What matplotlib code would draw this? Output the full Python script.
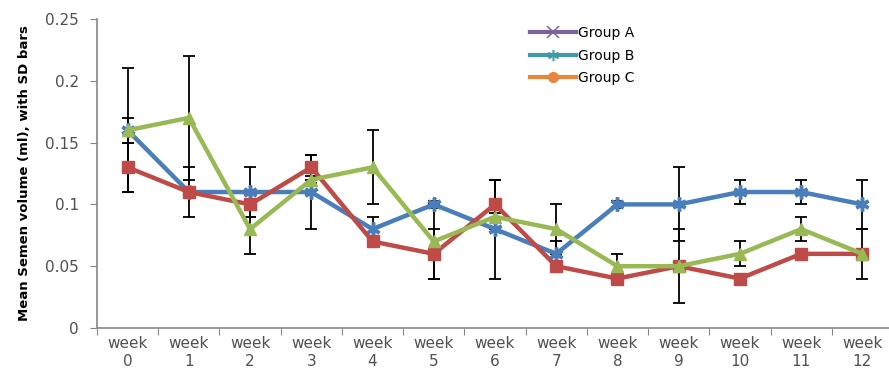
import numpy as np
import matplotlib
matplotlib.use("Agg")
import matplotlib.pyplot as plt
from matplotlib.lines import Line2D

weeks = ["week\n0", "week\n1", "week\n2", "week\n3", "week\n4", "week\n5", "week\n6",
         "week\n7", "week\n8", "week\n9", "week\n10", "week\n11", "week\n12"]

blue_mean = [0.16, 0.11, 0.11, 0.11, 0.08, 0.10, 0.08, 0.06, 0.10, 0.10, 0.11, 0.11, 0.10]
blue_sd   = [0.01, 0.003, 0.02, 0.03, 0.01, 0.003, 0.04, 0.01, 0.003, 0.03, 0.01, 0.01, 0.02]

red_mean = [0.13, 0.11, 0.10, 0.13, 0.07, 0.06, 0.10, 0.05, 0.04, 0.05, 0.04, 0.06, 0.06]
red_sd   = [0.02, 0.02, 0.01, 0.01, 0.003, 0.02, 0.02, 0.003, 0.003, 0.003, 0.003, 0.003, 0.003]

green_mean = [0.16, 0.17, 0.08, 0.12, 0.13, 0.07, 0.09, 0.08, 0.05, 0.05, 0.06, 0.08, 0.06]
green_sd   = [0.05, 0.05, 0.02, 0.003, 0.03, 0.03, 0.003, 0.02, 0.01, 0.03, 0.01, 0.01, 0.02]

legend_labels = ["Group A", "Group B", "Group C"]

W, H = 889, 379
fig = plt.figure(figsize=(W / 100, H / 100), dpi=100)
ax = fig.add_axes([97 / W, 51 / H, 796 / W, 309 / H])

x = np.arange(len(weeks))
series = [
    (blue_mean, blue_sd, "#4A7EBB", dict(marker=(6, 2, 0), markersize=10, markeredgewidth=2.5)),
    (red_mean, red_sd, "#BE4B48", dict(marker="s", markersize=8)),
    (green_mean, green_sd, "#98B954", dict(marker="^", markersize=9)),
]

for mean, sd, color, mk in series:
    ax.errorbar(x, mean, yerr=sd, fmt="none", ecolor="black", elinewidth=1.3,
                capsize=4, capthick=1.3, zorder=2)

for z, (mean, sd, color, mk) in enumerate(series):
    ax.plot(x, mean, color=color, linewidth=3.2, markerfacecolor=color,
            markeredgecolor=color, zorder=3 + z, **mk)

ax.set_xlim(-0.5, len(weeks) - 0.5)
ax.set_ylim(0, 0.25)

ax.set_yticks([0, 0.05, 0.1, 0.15, 0.2, 0.25])
ax.set_yticklabels(["0", "0.05", "0.1", "0.15", "0.2", "0.25"])
ax.set_xticks(np.arange(-0.5, len(weeks), 1))
ax.set_xticklabels([])
ax.set_xticks(x, minor=True)
ax.set_xticklabels(weeks, minor=True)

ax.tick_params(axis="y", which="major", length=5, color="#888888", labelsize=11,
               labelcolor="#505050", pad=8)
ax.tick_params(axis="x", which="major", length=5, color="#888888")
ax.tick_params(axis="x", which="minor", length=0, labelsize=11, labelcolor="#505050", pad=6)

for side in ("top", "right"):
    ax.spines[side].set_visible(False)
for side in ("left", "bottom"):
    ax.spines[side].set_color("#888888")
    ax.spines[side].set_linewidth(1.2)

ax.set_ylabel("Mean Semen volume (ml), with SD bars", fontsize=9.5, fontweight="bold",
              labelpad=10)

handles = [
    Line2D([], [], color="#7E649E", linewidth=3, marker="x", markersize=8, markeredgewidth=1.1),
    Line2D([], [], color="#3F9AA8", linewidth=3, marker=(6, 2, 0), markersize=8, markeredgewidth=1.1),
    Line2D([], [], color="#E8873C", linewidth=3, marker="o", markersize=7),
]
ax.legend(handles, legend_labels, loc="upper left", bbox_to_anchor=(530 / W, 1 - 26 / H),
          bbox_transform=fig.transFigure, frameon=False, fontsize=10, handlelength=3.3,
          handletextpad=0.15, labelspacing=0.62, borderpad=0, borderaxespad=0)

fig.savefig("out.png", dpi=100)
